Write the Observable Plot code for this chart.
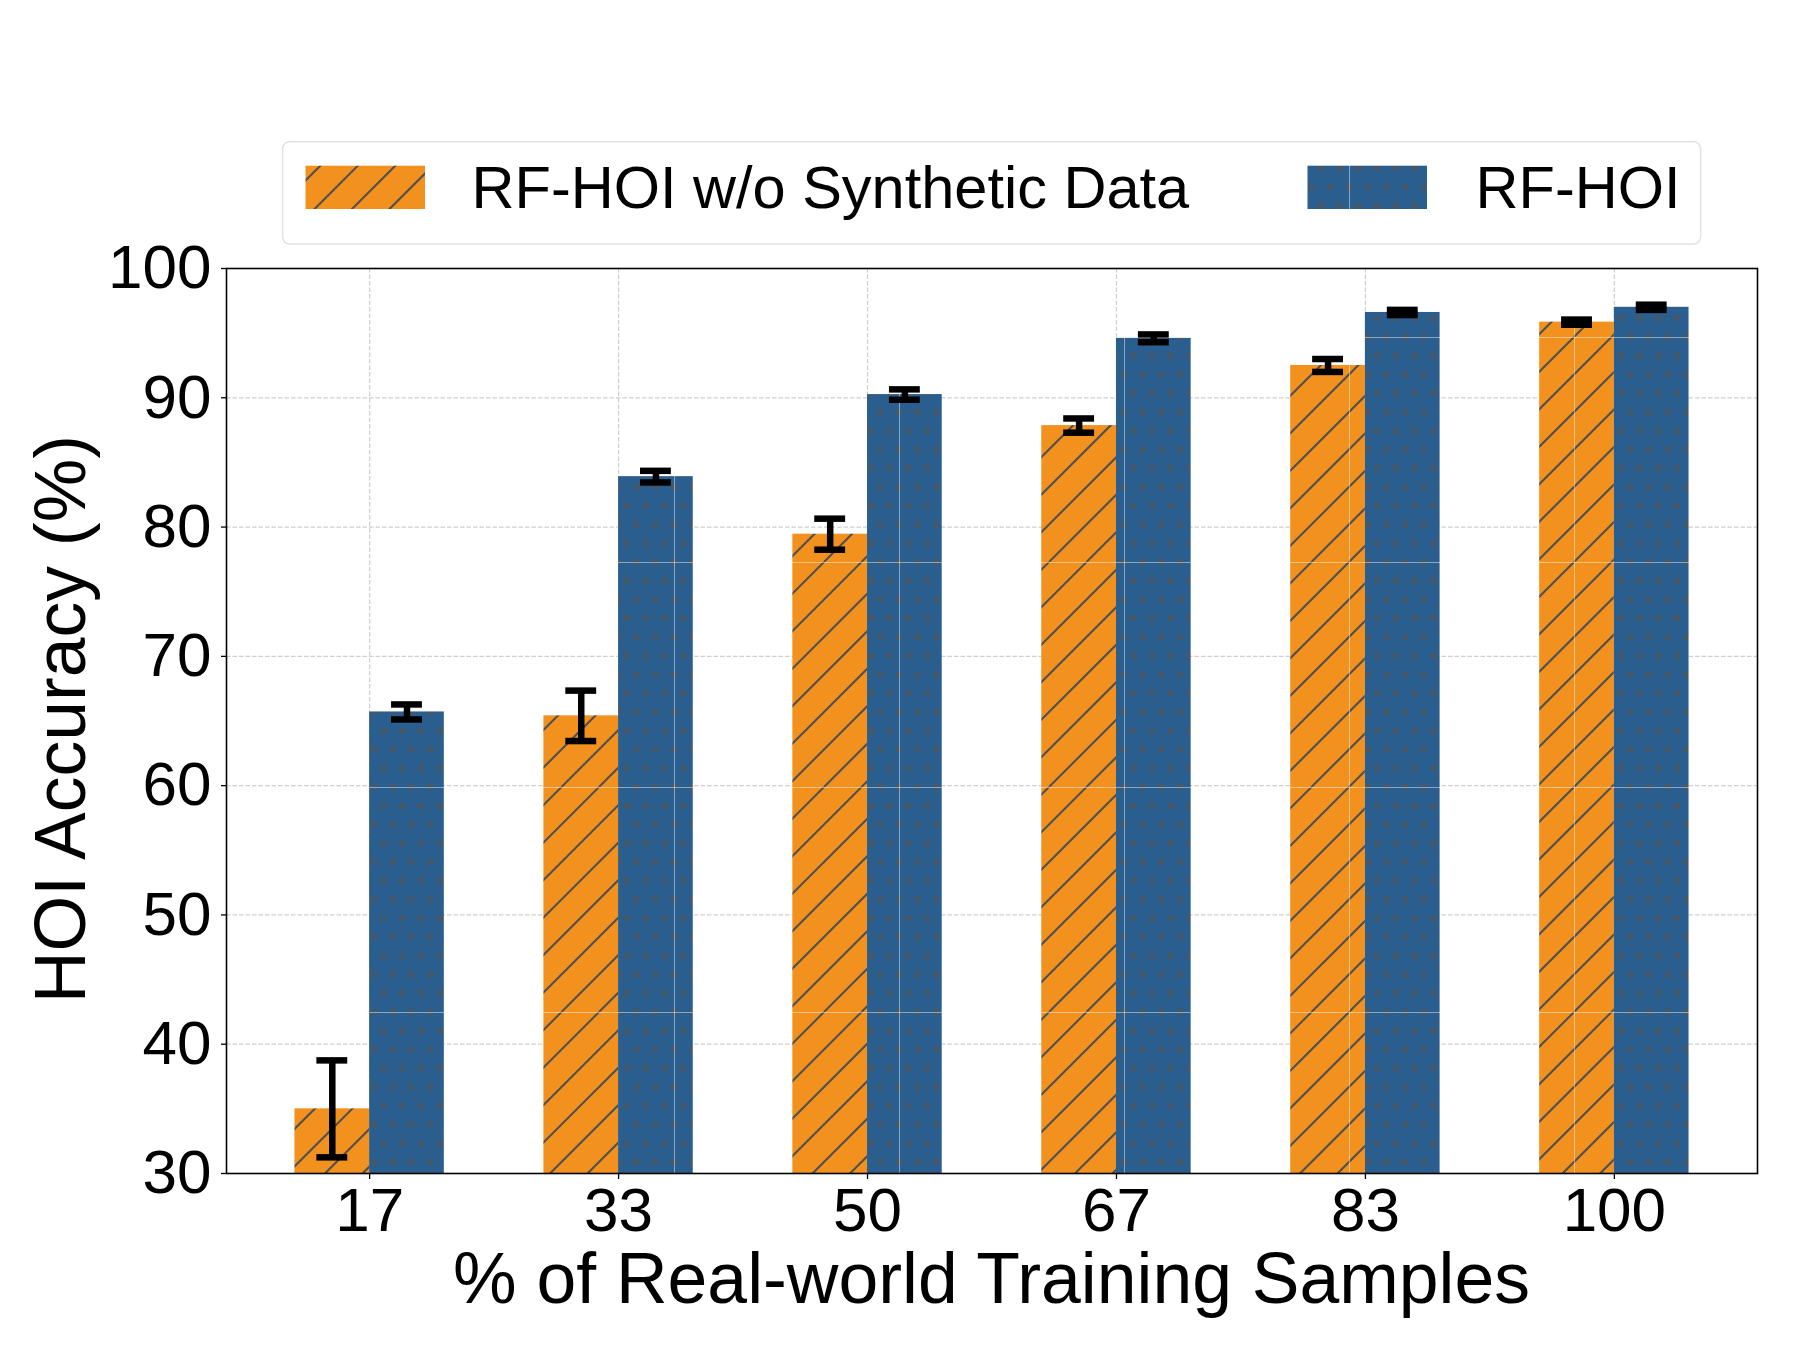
<!DOCTYPE html>
<html>
<head>
<meta charset="utf-8">
<script src="https://cdn.jsdelivr.net/npm/d3@7"></script>
<script src="https://cdn.jsdelivr.net/npm/@observablehq/plot@0.6"></script>
<style>
  html, body { margin: 0; padding: 0; background: #fff; overflow: hidden; }
  #chart svg { display: block; }
</style>
</head>
<body>
<div id="chart"></div>
<script>
// Percentage of real-world training samples (x categories)
const categories = ["17", "33", "50", "67", "83", "100"];
const seriesNames = ["RF-HOI w/o Synthetic Data", "RF-HOI"];

// Mean HOI accuracy (%) and error-bar half-widths
const withoutSynthetic = [35.0, 65.4, 79.45, 87.85, 92.5, 95.85];
const withoutSyntheticErr = [3.75, 1.95, 1.2, 0.55, 0.5, 0.2];
const rfHoi = [65.7, 83.9, 90.25, 94.6, 96.6, 97.0];
const rfHoiErr = [0.58, 0.45, 0.4, 0.3, 0.2, 0.2];

const yTicks = [30, 40, 50, 60, 70, 80, 90, 100];
const xLabel = "% of Real-world Training Samples";
const yLabel = "HOI Accuracy (%)";

const FONT = '"Liberation Sans", Arial, Helvetica, sans-serif';
const ORANGE = "#F2911E";
const BLUE = "#2A5E8E";
const HATCH = "#4f4f4f";

// Bars sit side by side around each integer category position
const barWidth = 0.3;
const capHalf = 0.062;
const yBase = 30;

const rows = [];
categories.forEach((c, i) => {
  rows.push({i, series: seriesNames[0], value: withoutSynthetic[i], err: withoutSyntheticErr[i], x1: i - barWidth, x2: i});
  rows.push({i, series: seriesNames[1], value: rfHoi[i], err: rfHoiErr[i], x1: i, x2: i + barWidth});
});
rows.forEach(d => { d.xc = (d.x1 + d.x2) / 2; d.lo = d.value - d.err; d.hi = d.value + d.err; });

const dash = {stroke: "#cfcfcf", strokeOpacity: 1, strokeWidth: 1.2, strokeDasharray: "4.5,2"};
const errStyle = {stroke: "#000", strokeWidth: 6.5};

const svg = Plot.plot({
  width: 1800,
  height: 1350,
  marginLeft: 226,
  marginRight: 43,
  marginTop: 268,
  marginBottom: 177,
  style: {fontFamily: FONT, fontSize: "62px", color: "#000", background: "#fff"},
  x: {type: "linear", domain: [-0.575, 5.575]},
  y: {domain: [30, 100]},
  marks: [
    Plot.gridY(yTicks, dash),
    Plot.gridX(d3.range(categories.length), dash),
    Plot.rectY(rows.filter(d => d.series === seriesNames[0]),
      {x1: "x1", x2: "x2", y1: () => yBase, y2: "value", fill: "url(#hatch-orange)"}),
    Plot.rectY(rows.filter(d => d.series === seriesNames[1]),
      {x1: "x1", x2: "x2", y1: () => yBase, y2: "value", fill: "url(#dots-blue)"}),
    Plot.ruleX(rows, {x: "xc", y1: "lo", y2: "hi", ...errStyle}),
    Plot.ruleY(rows, {y: "lo", x1: d => d.xc - capHalf, x2: d => d.xc + capHalf, ...errStyle}),
    Plot.ruleY(rows, {y: "hi", x1: d => d.xc - capHalf, x2: d => d.xc + capHalf, ...errStyle}),
    Plot.axisY({ticks: yTicks, tickSize: 5, tickPadding: 10, fontSize: 62, label: null, strokeWidth: 1.3}),
    Plot.axisX({ticks: d3.range(categories.length), tickFormat: i => categories[i],
      tickSize: 6, tickPadding: 7, fontSize: 62, label: null, strokeWidth: 1.3}),
    Plot.frame({stroke: "#000", strokeWidth: 1.6})
  ]
});

document.getElementById("chart").appendChild(svg);

// Fill patterns: diagonal hatch on orange, small rings on blue (one-inch tiles)
const root = d3.select(svg);
const defs = root.insert("defs", ":first-child");
const tile = 225;

function makeTile(id, base) {
  const p = defs.append("pattern")
    .attr("id", id)
    .attr("patternUnits", "userSpaceOnUse")
    .attr("x", -1).attr("y", 112)
    .attr("width", tile).attr("height", tile);
  p.append("rect").attr("width", tile).attr("height", tile).attr("fill", base);
  return p;
}
function addSeams(p) {
  p.append("path")
    .attr("d", `M0.5,0V${tile}M0,0.5H${tile}`)
    .attr("stroke", "#fff").attr("stroke-opacity", 0.45).attr("stroke-width", 1);
}

const hatch = makeTile("hatch-orange", ORANGE);
const step = tile / 6;
for (let k = 0; k <= 12; k++) {
  hatch.append("line")
    .attr("x1", k * step).attr("y1", 0)
    .attr("x2", k * step - tile).attr("y2", tile)
    .attr("stroke", HATCH).attr("stroke-width", 2);
}
addSeams(hatch);

const dots = makeTile("dots-blue", BLUE);
const ds = tile / 12;
for (let j = 0; j <= 12; j++) {
  const off = (j % 2) ? ds / 2 : 0;
  for (let k = -1; k <= 12; k++) {
    dots.append("circle")
      .attr("cx", k * ds + off).attr("cy", j * ds).attr("r", 2.2)
      .attr("fill", "none").attr("stroke", "#555").attr("stroke-width", 1.4);
  }
}
addSeams(dots);

// Axis titles
root.append("text")
  .attr("x", 991.5).attr("y", 1303)
  .attr("text-anchor", "middle")
  .attr("font-family", FONT).attr("font-size", 71.5).attr("fill", "#000")
  .text(xLabel);
root.append("text")
  .attr("transform", "translate(85,719) rotate(-90)")
  .attr("text-anchor", "middle")
  .attr("font-family", FONT).attr("font-size", 71.5).attr("fill", "#000")
  .text(yLabel);

// Legend box above the plot area
const legend = root.append("g")
  .attr("font-family", FONT).attr("font-size", 59.5).attr("text-anchor", "start");
legend.append("rect")
  .attr("x", 282.6).attr("y", 141.7).attr("width", 1418).attr("height", 102.3)
  .attr("rx", 7).attr("fill", "#fff").attr("stroke", "#e2e2e2").attr("stroke-width", 1.5);
const entries = [
  {name: seriesNames[0], fill: "url(#hatch-orange)", px: 305.5, tx: 471.6},
  {name: seriesNames[1], fill: "url(#dots-blue)", px: 1307.5, tx: 1475.6}
];
entries.forEach(e => {
  legend.append("rect")
    .attr("x", e.px).attr("y", 165.7).attr("width", 119.5).attr("height", 43.3)
    .attr("fill", e.fill);
  legend.append("text")
    .attr("x", e.tx).attr("y", 207.7).attr("fill", "#000")
    .attr("text-anchor", "start")
    .text(e.name);
});
</script>
</body>
</html>
